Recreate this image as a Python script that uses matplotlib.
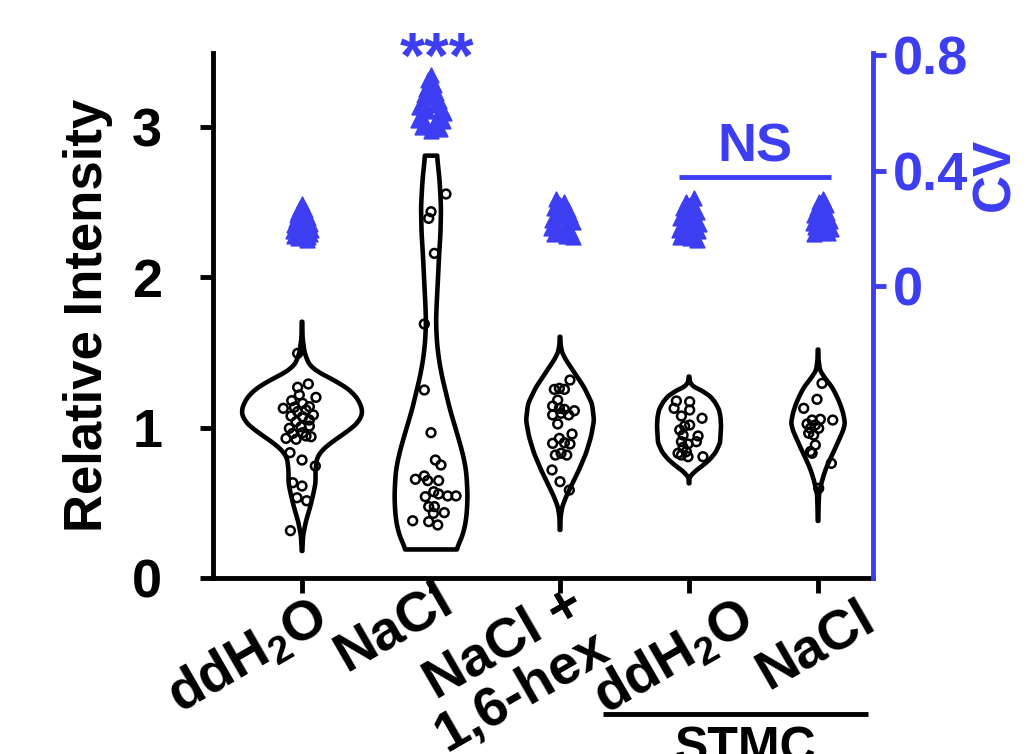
import numpy as np
import matplotlib
matplotlib.use("Agg")
import matplotlib.pyplot as plt
import matplotlib.transforms as mtransforms


# =========================
# DATA
# =========================

LABELS = [r"ddH$_{2}$O", "NaCl", "NaCl +\n1,6-hex", r"ddH$_{2}$O", "NaCl"]

# relative intensity of single cells
INT_DDH2O = [1.291, 1.269, 1.218, 1.202, 1.180, 1.162, 1.129, 1.136, 1.140, 1.107, 1.118, 1.078,
             1.073, 1.085, 1.040, 1.051, 0.996, 1.007, 1.011, 0.962, 0.967, 0.929, 0.923, 0.945,
             0.940, 0.834, 0.785, 0.745, 0.634, 0.612, 0.534, 0.514, 0.315, 1.495]
INT_NACL = [2.555, 2.437, 2.393, 2.160, 1.690, 1.251, 0.967, 0.785, 0.752, 0.657, 0.679, 0.648,
            0.648, 0.574, 0.541, 0.559, 0.546, 0.546, 0.475, 0.475, 0.430, 0.435, 0.381, 0.375, 0.353]
INT_HEX = [1.317, 1.255, 1.262, 1.255, 1.184, 1.144, 1.129, 1.122, 1.113, 1.085, 1.096, 1.085,
           1.025, 0.929, 0.958, 0.896, 0.900, 0.892, 0.818, 0.830, 0.818, 0.719, 0.641, 0.585]
INT_STMC_DDH2O = [1.178, 1.173, 1.129, 1.118, 1.078, 1.063, 1.011, 1.018, 0.985, 0.951, 0.945,
                  0.907, 0.892, 0.907, 0.869, 0.841, 0.830, 0.818, 0.807, 0.807]
INT_STMC_NACL = [1.295, 1.189, 1.129, 1.051, 1.056, 1.051, 1.025, 1.018, 0.996, 0.996, 0.963,
                 0.951, 0.885, 0.841, 0.830, 0.763, 0.597]

# horizontal scatter of the dots (category units)
JIT_DDH2O = [0.049, -0.034, -0.021, 0.108, -0.080, 0.005, -0.145, -0.059, 0.057, -0.034, 0.031,
             -0.085, 0.005, 0.088, -0.046, 0.057, -0.098, -0.008, 0.057, -0.072, 0.005, -0.124,
             -0.046, 0.031, 0.070, -0.093, 0.000, 0.103, -0.072, 0.000, -0.039, 0.036, -0.090, -0.034]
JIT_NACL = [0.116, 0.000, -0.018, 0.026, -0.052, -0.052, 0.000, 0.034, 0.077, -0.121, -0.052,
            -0.026, 0.059, 0.021, -0.044, 0.059, 0.129, 0.194, -0.018, 0.026, 0.018, 0.103,
            -0.142, -0.018, 0.052]
JIT_HEX = [0.077, -0.044, -0.005, 0.034, -0.018, -0.057, -0.005, 0.034, 0.111, -0.057, 0.008,
           0.067, -0.018, -0.005, 0.093, -0.057, 0.034, 0.077, -0.036, 0.008, 0.052, -0.062, 0.000, 0.072]
JIT_STMC_DDH2O = [-0.098, 0.005, -0.116, 0.005, -0.059, 0.101, -0.034, 0.005, -0.072, -0.046,
                  0.070, -0.059, -0.008, 0.057, -0.046, -0.021, -0.085, -0.059, -0.008, 0.108]
JIT_STMC_NACL = [0.031, -0.008, -0.111, -0.046, 0.018, 0.114, -0.085, -0.021, -0.059, 0.005,
                 -0.072, -0.034, -0.021, -0.059, -0.046, 0.103, 0.005]

# violin outlines: intensity levels and density (half width)
LEV_DDH2O = [0.18, 0.28, 0.38, 0.47, 0.55, 0.63, 0.72, 0.80, 0.85, 0.90, 0.96, 1.02, 1.08, 1.13,
             1.20, 1.26, 1.32, 1.37, 1.42, 1.50, 1.60, 1.705]
DEN_DDH2O = [0.3, 1, 4, 8, 11, 13.5, 13.5, 15, 20, 29, 42, 54, 60, 60, 55, 46, 31, 16, 7, 2.5, 0.5, 0.3]
LEV_NACL = [0.19, 0.27, 0.36, 0.45, 0.55, 0.63, 0.72, 0.79, 0.87, 0.94, 1.03, 1.12, 1.23, 1.34,
            1.45, 1.56, 1.70, 1.80, 2.00, 2.14, 2.30, 2.47, 2.65, 2.81]
DEN_NACL = [25, 31, 34.5, 36, 36.5, 36, 35, 33, 30, 27, 23, 19, 15, 11, 8, 6, 5, 5.5, 7, 8, 9.5,
            10, 8.5, 6]
LEV_HEX = [0.32, 0.40, 0.47, 0.54, 0.61, 0.72, 0.83, 0.94, 1.05, 1.16, 1.27, 1.38, 1.45, 1.50,
           1.555, 1.605]
DEN_HEX = [0.3, 0.5, 2, 6, 11, 19, 26, 31, 34, 32, 24, 13, 6, 2, 0.5, 0.3]
LEV_STMC_DDH2O = [0.63, 0.67, 0.71, 0.75, 0.79, 0.84, 0.90, 0.95, 1.01, 1.07, 1.12, 1.17, 1.21,
                  1.25, 1.27, 1.30, 1.34]
DEN_STMC_DDH2O = [0.3, 0.5, 6, 14, 21, 27, 31, 31.5, 32, 31.5, 30, 26, 21, 12, 5, 1, 0.3]
LEV_STMC_NACL = [0.38, 0.47, 0.56, 0.62, 0.67, 0.73, 0.79, 0.86, 0.92, 0.98, 1.03, 1.10, 1.16,
                 1.22, 1.27, 1.33, 1.38, 1.45, 1.52]
DEN_STMC_NACL = [0.3, 0.5, 1, 3, 5, 8, 12, 17, 21, 25, 27, 25, 22, 18, 14, 7, 2, 0.5, 0.3]

# coefficient of variation (right axis)
CV_DDH2O = [0.285, 0.272, 0.262, 0.255, 0.250, 0.245, 0.240, 0.235, 0.230, 0.225, 0.220, 0.215,
            0.210, 0.205, 0.200, 0.195, 0.190, 0.185, 0.180, 0.175, 0.170, 0.165, 0.160]
CV_NACL = [0.730, 0.712, 0.695, 0.682, 0.670, 0.660, 0.650, 0.642, 0.635, 0.628, 0.620, 0.612,
           0.605, 0.598, 0.590, 0.583, 0.576, 0.570, 0.563, 0.556, 0.550, 0.544, 0.538]
CV_HEX = [0.300, 0.292, 0.282, 0.272, 0.262, 0.252, 0.245, 0.238, 0.230, 0.222, 0.215, 0.208,
          0.200, 0.192, 0.186, 0.180, 0.175, 0.170]
CV_STMC_DDH2O = [0.305, 0.292, 0.280, 0.270, 0.262, 0.255, 0.248, 0.240, 0.234, 0.228, 0.220,
                 0.214, 0.208, 0.200, 0.195, 0.190, 0.182, 0.176, 0.170, 0.165, 0.160]
CV_STMC_NACL = [0.300, 0.290, 0.280, 0.270, 0.260, 0.252, 0.245, 0.238, 0.230, 0.224, 0.218,
                0.210, 0.204, 0.198, 0.190, 0.185, 0.180]

CVJ_DDH2O = [0.0, -0.015, 0.02, -0.03, 0.03, -0.04, 0.01, 0.045, -0.05, 0.05, -0.02, 0.06, -0.06,
             0.03, -0.055, 0.07, -0.07, 0.02, 0.065, -0.065, 0.05, -0.03, 0.04]
CVJ_NACL = [0.0, -0.02, 0.025, -0.04, 0.04, -0.055, 0.01, 0.06, -0.07, 0.03, -0.09, 0.08, -0.03,
            0.1, -0.08, 0.05, -0.1, 0.09, -0.05, 0.02, -0.07, 0.07, 0.0]
CVJ_HEX = [-0.03, 0.03, 0.0, -0.05, 0.06, -0.02, 0.08, 0.03, -0.06, 0.1, -0.04, 0.05, -0.07,
           0.08, 0.0, -0.05, 0.05, 0.1]
CVJ_STMC_DDH2O = [0.04, -0.02, 0.01, -0.05, 0.03, 0.06, -0.04, 0.0, -0.07, 0.05, -0.02, 0.08,
                  -0.06, 0.03, -0.08, 0.07, -0.03, 0.04, -0.07, 0.01, 0.06]
CVJ_STMC_NACL = [0.04, 0.01, 0.06, -0.01, 0.02, 0.07, -0.03, 0.05, 0.0, 0.09, -0.04, 0.06, -0.02,
                 0.1, 0.01, 0.08, -0.03]

GROUPS = [
    (INT_DDH2O, JIT_DDH2O, LEV_DDH2O, DEN_DDH2O, CV_DDH2O, CVJ_DDH2O),
    (INT_NACL, JIT_NACL, LEV_NACL, DEN_NACL, CV_NACL, CVJ_NACL),
    (INT_HEX, JIT_HEX, LEV_HEX, DEN_HEX, CV_HEX, CVJ_HEX),
    (INT_STMC_DDH2O, JIT_STMC_DDH2O, LEV_STMC_DDH2O, DEN_STMC_DDH2O, CV_STMC_DDH2O, CVJ_STMC_DDH2O),
    (INT_STMC_NACL, JIT_STMC_NACL, LEV_STMC_NACL, DEN_STMC_NACL, CV_STMC_NACL, CVJ_STMC_NACL),
]


# =========================
# STYLE
# =========================

BLUE = "#3d3df2"
DENSITY_SCALE = 1 / 129.0   # density unit -> category width
SPINE_LW = 3.5

plt.rcParams["font.family"] = ["Liberation Sans", "DejaVu Sans"]
plt.rcParams["font.weight"] = "bold"
plt.rcParams["mathtext.fontset"] = "custom"
plt.rcParams["mathtext.rm"] = "Liberation Sans:bold"
plt.rcParams["mathtext.it"] = "Liberation Sans:bold"
plt.rcParams["mathtext.bf"] = "Liberation Sans:bold"


def draw_violin(ax, pos, levels, dens):
    grid = np.linspace(levels[0], levels[-1], 400)
    hw = np.interp(grid, levels, dens)
    kern = np.exp(-0.5 * (np.arange(-12, 13) / 5.0) ** 2)
    kern /= kern.sum()
    hw = np.convolve(np.pad(hw, 12, mode="edge"), kern, mode="valid") * DENSITY_SCALE
    xs = np.concatenate([pos - hw, (pos + hw)[::-1]])
    ys = np.concatenate([grid, grid[::-1]])
    ax.fill(xs, ys, facecolor="white", edgecolor="black", linewidth=3.3,
            joinstyle="round", zorder=2)


# =========================
# PLOT
# =========================

fig = plt.figure(figsize=(10.33, 7.54), dpi=100)
ax = fig.add_axes([0.2062, 0.2334, 0.6389, 0.6963])
ax2 = ax.twinx()

for i, (vals, jit, lev, den, cv, cvj) in enumerate(GROUPS):
    draw_violin(ax, i, lev, den)
    ax.scatter(i + np.array(jit), vals, s=40, facecolors="none", edgecolors="black",
               linewidths=1.8, zorder=3)
    ax2.scatter(i + np.array(cvj), cv, marker="^", s=110, facecolors=BLUE,
                edgecolors=BLUE, linewidths=1.2, zorder=3)

ax.set_xlim(-0.69, 4.426)
ax.set_ylim(0, 3.493)
ax2.set_ylim(-1.011, 0.807)

ax.set_yticks([0, 1, 2, 3])
ax.set_xticks(range(len(LABELS)))
ax.set_xticklabels([])
ax2.set_yticks([0, 0.4, 0.8])
ax2.set_yticklabels(["0", "0.4", "0.8"])

for s in ["top", "right"]:
    ax.spines[s].set_visible(False)
for s in ["top", "left", "bottom"]:
    ax2.spines[s].set_visible(False)
ax.spines["left"].set_linewidth(SPINE_LW)
ax.spines["bottom"].set_linewidth(SPINE_LW)
ax2.spines["right"].set_linewidth(SPINE_LW)
ax2.spines["right"].set_color(BLUE)

ax.tick_params(axis="y", length=9.5, width=SPINE_LW, labelsize=39, pad=27)
ax.tick_params(axis="x", length=11, width=SPINE_LW)
ax2.tick_params(axis="y", length=9, width=SPINE_LW, color=BLUE, labelcolor=BLUE,
                labelsize=39, pad=5)

ax.set_ylabel("Relative Intensity", fontsize=38, fontweight="bold", va="center")
ax.yaxis.set_label_coords(-0.19, 0.5)
ax2.set_ylabel("CV", fontsize=38, fontweight="bold", color=BLUE, va="center", rotation=90)
ax2.yaxis.set_label_coords(1.185, 0.768)

# rotated category labels (offsets in px from tick foot)
label_shift = [(8, 13), (4, -4), (7, 0), (47, 14), (39, 14)]
for i, (lab, (dx, dy)) in enumerate(zip(LABELS, label_shift)):
    tr = ax.get_xaxis_transform() + mtransforms.ScaledTranslation(
        dx / 100, -dy / 100, fig.dpi_scale_trans)
    ax.text(i, 0, lab, transform=tr, rotation=30, rotation_mode="anchor",
            ha="right", va="top", multialignment="right", fontsize=40,
            fontweight="bold", linespacing=0.95, clip_on=False)

# STMC bracket
ax.plot([2.33, 4.39], [-0.259, -0.259], color="black", lw=3.5,
        transform=ax.get_xaxis_transform(), clip_on=False, solid_capstyle="butt")
fig.text(745 / 1033, 1 - 726 / 754, "STMC", ha="center", va="top", fontsize=36,
         fontweight="bold")

# significance marks
ax2.text(1.05, 0.72, "***", ha="center", va="baseline", color=BLUE, fontsize=46,
         fontweight="bold", clip_on=False)
ax2.plot([2.92, 4.10], [0.376, 0.376], color=BLUE, lw=3.5, solid_capstyle="butt")
ax2.text(3.51, 0.43, "NS", ha="center", va="baseline", color=BLUE, fontsize=39,
         fontweight="bold")

fig.savefig("out.png", dpi=100)
